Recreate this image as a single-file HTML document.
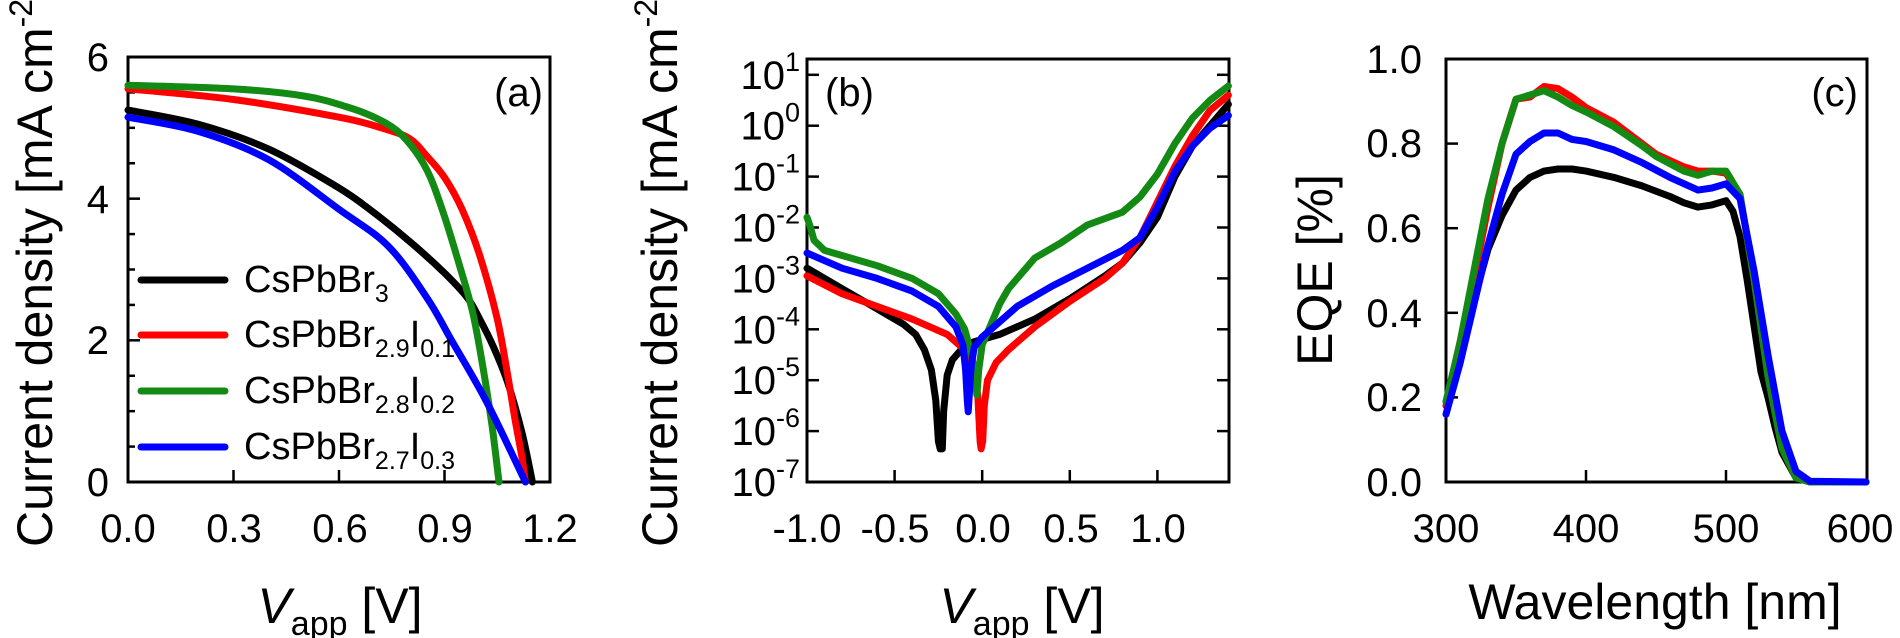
<!DOCTYPE html>
<html><head><meta charset="utf-8">
<style>
html,body{margin:0;padding:0;background:#fff;}
svg{display:block;font-family:"Liberation Sans",Arial,sans-serif;}
</style></head>
<body>
<svg id="s" width="1900" height="638" viewBox="0 0 1900 638" xmlns="http://www.w3.org/2000/svg">
<g fill="none" stroke="#000" stroke-width="3">
<rect x="128" y="57" width="422" height="425"/>
<rect x="807" y="59" width="422" height="423"/>
<rect x="1446" y="59" width="421" height="423"/>
</g>
<g id="ticks" stroke="#000" stroke-width="2.5"></g>
<g id="curves" fill="none" stroke-width="7" stroke-linejoin="round" stroke-linecap="round"></g>
<g font-size="40" fill="#000">
<g text-anchor="end">
<text x="109" y="71">6</text><text x="109" y="213">4</text><text x="109" y="354">2</text><text x="109" y="496">0</text>
</g>
<g text-anchor="middle">
<text x="128" y="542">0.0</text><text x="234" y="542">0.3</text><text x="340" y="542">0.6</text><text x="445" y="542">0.9</text><text x="550" y="542">1.2</text>
</g>
<text x="543" y="106" text-anchor="end">(a)</text>
<text transform="translate(52,266) rotate(-90)" font-size="50" text-anchor="middle">Current density [mA cm<tspan dy="-20" font-size="32">-2</tspan><tspan dy="20">]</tspan></text>
<text x="340" y="623" font-size="50" text-anchor="middle"><tspan font-style="italic">V</tspan><tspan font-size="34" dy="12">app</tspan><tspan dy="-12"> [V]</tspan></text>
<g font-size="38">
<text x="244" y="292">CsPbBr<tspan font-size="25" dy="10">3</tspan></text>
<text x="244" y="347">CsPbBr<tspan font-size="25" dy="10">2.9</tspan><tspan dy="-10">I</tspan><tspan font-size="25" dy="10">0.1</tspan></text>
<text x="244" y="403">CsPbBr<tspan font-size="25" dy="10">2.8</tspan><tspan dy="-10">I</tspan><tspan font-size="25" dy="10">0.2</tspan></text>
<text x="244" y="459">CsPbBr<tspan font-size="25" dy="10">2.7</tspan><tspan dy="-10">I</tspan><tspan font-size="25" dy="10">0.3</tspan></text>
</g>
<g id="blab" text-anchor="end"></g>
<g text-anchor="middle">
<text x="807" y="542">-1.0</text><text x="895" y="542">-0.5</text><text x="983" y="542">0.0</text><text x="1071" y="542">0.5</text><text x="1158" y="542">1.0</text>
</g>
<text x="825" y="106">(b)</text>
<text transform="translate(677,266) rotate(-90)" font-size="50" text-anchor="middle">Current density [mA cm<tspan dy="-20" font-size="32">-2</tspan><tspan dy="20">]</tspan></text>
<text x="1022" y="623" font-size="50" text-anchor="middle"><tspan font-style="italic">V</tspan><tspan font-size="34" dy="12">app</tspan><tspan dy="-12"> [V]</tspan></text>
<g text-anchor="end">
<text x="1422" y="73">1.0</text><text x="1422" y="157">0.8</text><text x="1422" y="242">0.6</text><text x="1422" y="327">0.4</text><text x="1422" y="411">0.2</text><text x="1422" y="496">0.0</text>
</g>
<g text-anchor="middle">
<text x="1446" y="542">300</text><text x="1586" y="542">400</text><text x="1726" y="542">500</text><text x="1860" y="542">600</text>
</g>
<text x="1858" y="106" text-anchor="end">(c)</text>
<text transform="translate(1332,270) rotate(-90)" font-size="50" text-anchor="middle">EQE [%]</text>
<text x="1655" y="619" font-size="50" text-anchor="middle">Wavelength [nm]</text>
</g>
</svg>
<script>
var NS="http://www.w3.org/2000/svg";
function el(p,t,a){var e=document.createElementNS(NS,t);for(var k in a)e.setAttribute(k,a[k]);p.appendChild(e);return e;}
var T=document.getElementById('ticks'),C=document.getElementById('curves'),BL=document.getElementById('blab');
[0.3,0.6,0.9].forEach(function(v){var x=128+v/1.2*422;el(T,'line',{x1:x,x2:x,y1:482,y2:470});});
for(var j=0.5;j<6;j+=0.5){var y=482-j/6*425;el(T,'line',{x1:128,x2:j%2==0?140:135,y1:y,y2:y});}
[-0.5,0,0.5,1.0].forEach(function(v){var x=807+(v+1)*175.2;el(T,'line',{x1:x,x2:x,y1:482,y2:470});});
for(var d=-7;d<=1;d++){var y=482-(d+7)*50.9;el(T,'line',{x1:807,x2:819,y1:y,y2:y});el(T,'line',{x1:1229,x2:1217,y1:y,y2:y});
var t=el(BL,'text',{x:800,y:y+14});t.textContent='10';var s=el(t,'tspan',{dy:-18,'font-size':27});s.textContent=String(d);}
[400,500].forEach(function(v){var x=1446+(v-300)*1.4;el(T,'line',{x1:x,x2:x,y1:482,y2:470});});
[0.2,0.4,0.6,0.8].forEach(function(v){var y=482-v*423;el(T,'line',{x1:1446,x2:1458,y1:y,y2:y});});
function poly(pts,fx,fy,col){el(C,'polyline',{points:pts.map(function(p){return fx(p[0]).toFixed(1)+','+fy(p[1]).toFixed(1);}).join(' '),stroke:col});}
function smooth(pts,fx,fy,col){var P=pts.map(function(p){return [fx(p[0]),fy(p[1])];});var d='M'+P[0][0].toFixed(1)+','+P[0][1].toFixed(1);
for(var i=0;i<P.length-1;i++){var p0=P[i-1]||P[i],p1=P[i],p2=P[i+1],p3=P[i+2]||P[i+1];
var c1=[p1[0]+(p2[0]-p0[0])/6,p1[1]+(p2[1]-p0[1])/6],c2=[p2[0]-(p3[0]-p1[0])/6,p2[1]-(p3[1]-p1[1])/6];
d+=' C'+c1[0].toFixed(1)+','+c1[1].toFixed(1)+' '+c2[0].toFixed(1)+','+c2[1].toFixed(1)+' '+p2[0].toFixed(1)+','+p2[1].toFixed(1);}
el(C,'path',{d:d,stroke:col});}
var ax=function(v){return 128+v/1.2*422},ay=function(j){return 482-j/6*425};
var K='#000',R='#ff0000',G='#138a13',B='#0000ff';
smooth([[0,5.25],[0.2,5.05],[0.4,4.7],[0.6,4.15],[0.7,3.8],[0.8,3.4],[0.9,2.95],[0.965,2.6],[1.0,2.3],[1.04,1.9],[1.08,1.4],[1.12,0.7],[1.15,0]],ax,ay,K);
smooth([[0,5.55],[0.3,5.4],[0.6,5.15],[0.72,5.0],[0.8,4.85],[0.85,4.6],[0.9,4.3],[0.95,3.85],[1.0,3.2],[1.05,2.3],[1.08,1.5],[1.1,0.9],[1.12,0.35],[1.13,0]],ax,ay,R);
smooth([[0,5.6],[0.3,5.55],[0.5,5.45],[0.62,5.3],[0.7,5.15],[0.765,4.96],[0.82,4.65],[0.86,4.3],[0.9,3.75],[0.94,3.1],[0.98,2.4],[1.01,1.6],[1.035,0.8],[1.055,0]],ax,ay,G);
smooth([[0,5.15],[0.2,4.95],[0.4,4.55],[0.6,3.85],[0.74,3.33],[0.85,2.6],[0.92,2.0],[1.02,1.13],[1.13,0]],ax,ay,B);
[[K,280],[R,335],[G,391],[B,447]].forEach(function(a){el(C,'line',{x1:141,x2:225,y1:a[1],y2:a[1],stroke:a[0]});});
var bx=function(v){return 807+(v+1)*175.2},by=function(l){return 482-(l+7)*50.9};
poly([[-1,-2.8],[-0.8,-3.2],[-0.6,-3.6],[-0.45,-3.9],[-0.38,-4.1],[-0.33,-4.4],[-0.29,-4.8],[-0.265,-5.4],[-0.25,-6.2],[-0.24,-6.35],[-0.228,-6.35],[-0.22,-5.6],[-0.2,-4.9],[-0.17,-4.6],[-0.12,-4.4],[-0.05,-4.25],[0.1,-4.1],[0.3,-3.8],[0.5,-3.4],[0.7,-2.95],[0.8,-2.7],[0.9,-2.3],[1.0,-1.8],[1.1,-1.0],[1.2,-0.4],[1.3,0.0],[1.405,0.42]],bx,by,K);
poly([[-1,-2.95],[-0.8,-3.3],[-0.6,-3.55],[-0.4,-3.8],[-0.2,-4.1],[-0.1,-4.4],[-0.05,-4.75],[-0.025,-5.3],[-0.012,-6.2],[-0.006,-6.35],[0.003,-6.2],[0.012,-5.5],[0.03,-5.0],[0.08,-4.65],[0.15,-4.4],[0.3,-3.95],[0.5,-3.45],[0.7,-3.0],[0.8,-2.7],[0.9,-2.2],[1.0,-1.5],[1.1,-0.8],[1.2,-0.2],[1.3,0.3],[1.405,0.6]],bx,by,R);
poly([[-1,-1.8],[-0.98,-2.0],[-0.96,-2.25],[-0.9,-2.45],[-0.8,-2.55],[-0.6,-2.75],[-0.4,-3.0],[-0.25,-3.3],[-0.15,-3.7],[-0.1,-4.0],[-0.06,-4.5],[-0.04,-5.0],[-0.03,-5.29],[-0.02,-4.8],[0.0,-4.3],[0.05,-3.9],[0.1,-3.5],[0.15,-3.2],[0.3,-2.6],[0.45,-2.3],[0.6,-1.95],[0.8,-1.7],[0.9,-1.4],[1.0,-0.95],[1.1,-0.35],[1.2,0.15],[1.3,0.5],[1.405,0.78]],bx,by,G);
poly([[-1,-2.5],[-0.8,-2.8],[-0.6,-3.0],[-0.4,-3.25],[-0.25,-3.55],[-0.15,-3.95],[-0.11,-4.3],[-0.095,-4.8],[-0.085,-5.4],[-0.08,-5.62],[-0.072,-5.2],[-0.062,-4.7],[-0.045,-4.35],[0.0,-4.15],[0.05,-4.0],[0.2,-3.55],[0.4,-3.15],[0.6,-2.8],[0.8,-2.45],[0.9,-2.2],[1.0,-1.6],[1.1,-0.9],[1.2,-0.4],[1.3,-0.05],[1.405,0.2]],bx,by,B);
var cx=function(w){return 1446+(w-300)*1.4},cy=function(e){return 482-e*423};
poly([[300,0.19],[310,0.3],[320,0.43],[330,0.55],[340,0.63],[350,0.69],[360,0.72],[370,0.735],[380,0.74],[390,0.74],[400,0.735],[420,0.72],[440,0.70],[460,0.675],[470,0.66],[480,0.65],[490,0.655],[500,0.665],[505,0.64],[510,0.58],[515,0.48],[520,0.37],[525,0.26],[530,0.2],[535,0.13],[540,0.07],[550,0.01],[560,0],[600,0]],cx,cy,K);
poly([[300,0.18],[310,0.33],[320,0.48],[330,0.65],[340,0.8],[350,0.905],[360,0.91],[370,0.935],[380,0.93],[390,0.91],[400,0.885],[420,0.85],[440,0.8],[450,0.775],[470,0.745],[480,0.735],[490,0.735],[500,0.73],[510,0.68],[520,0.48],[530,0.25],[540,0.08],[550,0.01],[560,0],[600,0]],cx,cy,R);
poly([[300,0.19],[310,0.33],[320,0.5],[330,0.67],[340,0.8],[350,0.905],[360,0.915],[370,0.925],[380,0.91],[390,0.89],[400,0.875],[420,0.84],[440,0.795],[450,0.77],[470,0.735],[480,0.725],[490,0.735],[500,0.735],[510,0.68],[520,0.48],[530,0.25],[540,0.08],[550,0.01],[560,0],[600,0]],cx,cy,G);
poly([[300,0.16],[310,0.28],[320,0.42],[330,0.56],[340,0.68],[350,0.775],[360,0.805],[370,0.825],[380,0.825],[390,0.81],[400,0.805],[420,0.785],[440,0.755],[460,0.72],[480,0.69],[490,0.695],[500,0.705],[510,0.67],[520,0.5],[530,0.3],[540,0.12],[550,0.025],[560,0.002],[600,0]],cx,cy,B);
</script>
</body></html>
